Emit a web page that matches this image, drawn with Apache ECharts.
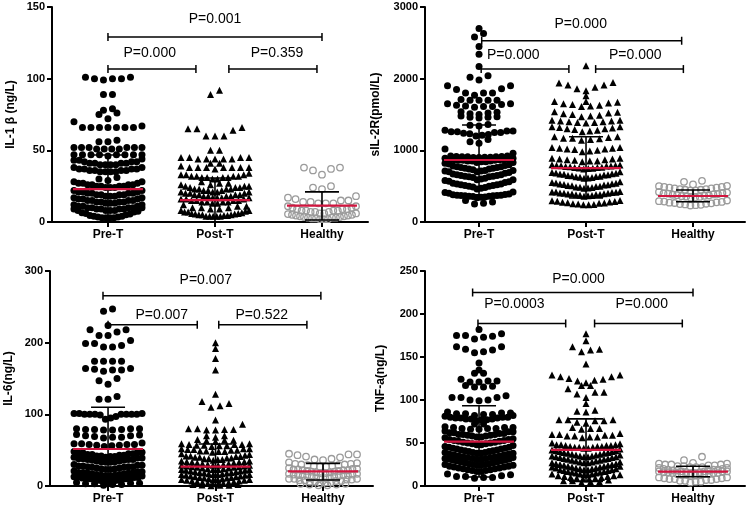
<!DOCTYPE html>
<html><head><meta charset="utf-8">
<script src="https://cdn.jsdelivr.net/npm/echarts@6/dist/echarts.min.js"></script>
<style>html,body{margin:0;padding:0;background:#fff}#c{width:750px;height:508px}</style>
</head><body><div id="c"></div>
<script>
const categories = ['Pre-T', 'Post-T', 'Healthy'];
const yNames = ['IL-1 β (ng/L)', 'sIL-2R(pmol/L)', 'IL-6(ng/L)', 'TNF-a(ng/L)'];
const yMax = [150, 3000, 300, 250];
const yInterval = [50, 1000, 100, 50];

// ---- IL-1 beta (rows of points) ----
const il1_pre = [
  [101,100,100,99,100,101],[89,89],[79,78],[76,75,72],
  [67,66,66,66,66,66,66,66,70],[56,57,56],[52,51,52,52,52,52,51,52,51,51],
  [47,47,47,47,47,47,47,47,46],
  [40,40,40,40,41,41,41,41,42,42,42,43,43,44],
  [35,35,35,35,36,36,36,36,37,37,37,37,38,38],[29,30,31],
  [24,24,24,25,25,25,25,26,26,26,26,27,27,27,28,28],
  [18,18,18,19,19,19,19,20,20,20,20,21,21,21,22,22],
  [13,13,13,14,14,14,14,15,15,15,15,16,16,16,17,17],
  [8,8,8,9,9,9,9,10,10,10,10,11,11,11,12,12],
  [3,3,3,3,3.5,3.5,4,4,4.5,5,5.5,6,6.5,7,7.5,8,9,10]
];
const il1_post = [
  [89,92],[60,60,60,64,65,65,66],[50,50],[44,44,44,44,44,45,45,45,45],[41,41],
  [37,38,38,38,38,38,38,38,39],[30,30,31,31,31,31,32,32,32,32,33,33,33,34],[26,27,27,28],
  [21,21,22,22,22,23,23,23,23,24,24,24,25,25,25,26],
  [17,17,17,18,18,18,18,19,19,19,19,20,20,20,21,21],
  [13,13,14,14,14,14,15,15,15,15,16,16,16,17],[9,9,10,10,10,11,11,12],
  [4,4,4,4,4,4.5,4.5,5,5,5,5.5,5.5,6,6,6.5,7,7,7.5,8,8]
];
const il1_hea = [
  [33,36,37,38,38],[23,24,25],[13,13,13,14,14,15,15,16,17,18],
  [6,6,7,7,7,8,8,8,8,9,9,9,10,10,11,11],
  [2,2,2,2.5,2.5,3,3,3,3.5,3.5,4,4,4.5,4.5,5,5,5.5,6]
];
// ---- sIL-2R ----
const il2_pre = [
  [2700],[2580,2630],[2450],[2340],[2170],[1980,2020,2040],
  [1770,1800,1800,1800,1850,1860,1900,1900],[1700,1700,1700,1700,1710],
  [1600,1610,1610,1620,1630,1640,1650,1650],[1500,1510,1520,1530,1540],
  [1450,1460,1460,1470,1480],[1340,1350,1360],
  [1200,1210,1220,1230,1240,1250,1250,1260,1260,1270,1270,1280],[1100,1120,1150],
  [900,900,905,905,910,910,910,915,915,920,920,960,1020],
  [830,840,840,850,850,850,860,860,860,870,870,870,880,880,890,890],
  [700,710,720,730,740,740,750,750,760,760,770,770,780,790,800,810,820,830],
  [590,600,610,620,630,630,640,640,650,650,660,660,670,680,690,700,710,720],
  [460,470,480,490,500,500,510,510,520,520,530,530,540,550,560,570,580,590],
  [340,345,350,355,360,360,365,365,370,370,375,375,380,385,390,400,410,420],
  [250,260,280,300]
];
const il2_post = [
  [2180],[1760],[1830,1860,1880,1910,1910,1940,1945],[1680],
  [1610,1620,1630,1640,1650,1660,1670,1680],[1470,1480,1490,1500,1510,1520,1530,1540],
  [1380,1390,1390,1400,1400,1410,1410,1420,1420],
  [1260,1270,1280,1290,1300,1300,1310,1320,1330,1330],
  [1140,1150,1160,1170,1170,1180,1190,1190],
  [980,990,1000,1010,1020,1020,1030,1030,1040,1040],
  [840,850,850,860,870,870,880,880,890,890],
  [740,745,750,755,760,760,765,770,775,780,780,785,790,790,795,800],
  [610,615,620,625,630,635,640,645,650,655,660,665,670,675,680,685,690,700],
  [470,475,480,485,490,495,500,505,510,515,520,525,530,535,540,545,550,560],
  [360,365,370,375,380,385,385,390,390,395,400,400,405,410,415,420,420,425],
  [240,240,245,250,255,260,265,270,275,280,285,290,295,300]
];
const il2_hea = [
  [525,560,575],
  [440,440,450,450,460,460,470,470,480,480,490,490,500,505],
  [340,345,350,355,360,365,370,375,380,385,390,395,400,405,410,420],
  [230,235,240,245,250,255,260,265,270,275,280,285,290,300]
];
// ---- IL-6 ----
const il6_pre = [
  [244,247],[224],[210,210,215,218,218],[194,194,196,199,199,203],[174,174,174,174],
  [160,162,162,163,164,164],[142,147,150],[121,121,125],
  [93,95,97,99,100,100,100,100,100,100,100,101,101,101],
  [78,78,79,79,79,80,80,80],[67,68,68,69,70,70,71,72],[55,56,57,57,58,58,58,59,59,60],
  [40,41,41,42,42,43,43,44,44,45,45,46,46,47,47,48],
  [33,33,34,34,35,35,36,36,37,37,37,38,38,39,39,40],
  [23,23,24,24,25,25,26,26,27,27,27,28,28,29,29,30],
  [14,14,15,15,16,16,17,17,18,18,18,19,19,20,20,21],
  [6,6,7,7,8,8,9,9,10,10,10,11,11,12,12,13,13,14],
  [1,2,2,3,3,4,4,5]
];
const il6_post = [
  [200],[192],[178],[162],[128],[110,112,115,118],[92],
  [78,78,79,79,80,80,86],[68,70,70],[62,63,64,64,65],
  [55,56,56,57,57,58,58,58,59,59],[47,48,48,49,49,50,50,51,51,52,52,52],
  [36,37,37,38,38,39,39,40,40,41,41,42,42,43,44,45],
  [29,29,30,30,31,31,32,32,33,33,34,34,35,35],
  [23,23,24,24,25,25,26,26,27,27,28,28,29,29],
  [16,16,17,17,18,18,19,19,20,20,21,21,22,22,23,23],
  [9,9,10,10,11,11,12,12,13,13,14,14,15,15,16,16],
  [3,3,4,4,5,5,6,6,7,7,8,8,9,9],[0.5,1,1,1.5,2,2]
];
const il6_hea = [
  [36,37,38,40,41,43,44,44,45],
  [27,27,28,28,29,29,30,30,31,31,32,33],
  [18,18,19,19,20,20,21,21,22,22,22,23,23,24,24,25],
  [11,11,12,12,13,13,14,14,14,15,15,15,16,16,17,17],
  [4,5,5,6,6,7,7,8,8,9,9,10,10,10],[1,1,2,2,3,3]
];
// ---- TNF-a ----
const tnf_pre = [
  [182],[171,173,174,175,175,177],[155,156,158,159,162,162],[143],[135],[131,131],
  [121,121,122,122,124],[115,115,116,117],[99,100,100,103,103,103,105],
  [82,83,83,84,84,85,85,86],[76,77,77,78,78,78,79,79,79,80,80,80,81,82],[72,72],
  [66,66,67,67,67,68,68,68,69],
  [57,57,58,58,59,59,60,60,60,61,61,62,62,63,63,64],
  [48,48,49,49,50,50,51,51,52,52,53,53,54,54,55,56],
  [38,38,39,39,40,40,41,41,42,42,43,43,44,44,45,45,46,47],
  [31,31,32,32,33,33,34,34,35,35,36,36,37,37,38,39],
  [24,24,25,25,26,26,27,27,28,28,29,29,30,30,31,31,32,33],
  [17,17,18,18,19,19,20,20,21,21,22,22,23,23,24,25],
  [9,10,10,11,11,12,13,14]
];
const tnf_post = [
  [177],[169],[156,158,159,162],[142],[120,122,123,124,125,127,127,129,129],[117,117],
  [103,107,109,109,113],[96],[86,87,88],[73,74,76,76,77,77,77],[66,67,67,68],
  [56,57,57,58,58,59,59,60,60,61],
  [44,44,45,45,45,46,46,46,47,47,47,48,48,48,49,50],
  [34,34,35,35,36,36,37,37,38,38,39,39,40,40,41,41,42,43],
  [27,27,28,28,29,29,30,30,31,31,32,32,33,33,34,34,35,36],
  [19,19,20,20,21,21,22,22,23,23,24,24,25,25,26,26,27,28],
  [13,13,14,14,15,15,16,16,17,17,18,18,19,19,20,21,22,23],
  [8,8,9,9,10,10,11,11,12,12,13,14],[4,5,5,6,6,7]
];
const tnf_hea = [
  [27,30,34],[22,22,22,23,23,24,24,25,25,25,26,26],
  [15,15,16,16,17,17,18,18,18,19,19,19,20,20,21,21],
  [12,12,13,13,13,14,14,14,15,15,15,16,16,17,17,17],
  [4,5,5,6,6,7,7,8,8,8,9,9,10,10]
];

// median, lower bar, upper bar per group
const il1_stats = [[23, 0, 46.7], [15.3, 0, 30.7], [11.4, 1.4, 21]];
const il2_stats = [[865, 380, 1353], [753, 335, 1190], [363, 283, 446]];
const il6_stats = [[51.6, 0, 109.8], [27, 0, 58.6], [20.5, 8.4, 31.6]];
const tnf_stats = [[51.5, 10.5, 93.4], [41.9, 5.4, 78], [16.7, 10.8, 22.9]];

// comparison brackets: [from, to, level, labelX, labelY]
const il1_cmp = [[0, 2, 129, 1.0, 141.6], [0, 0.822, 106.7, 0.39, 118], [1.13, 1.953, 106.7, 1.58, 118]];
const il1_pv = ['P=0.001', 'P=0.000', 'P=0.359'];
const il2_cmp = [[0.025, 1.894, 2529, 0.95, 2762], [0.02, 0.84, 2134, 0.32, 2330], [1.09, 1.91, 2134, 1.46, 2330]];
const il2_pv = ['P=0.000', 'P=0.000', 'P=0.000'];
const il6_cmp = [[-0.047, 1.98, 265.5, 0.91, 287], [0, 0.83, 225, 0.5, 238.5], [1.03, 1.85, 225, 1.43, 238.5]];
const il6_pv = ['P=0.007', 'P=0.007', 'P=0.522'];
const tnf_cmp = [[-0.06, 2.0, 225, 0.93, 240.6], [-0.01, 0.81, 189, 0.33, 211.6], [1.08, 1.90, 189, 1.52, 211.6]];
const tnf_pv = ['P=0.000', 'P=0.0003', 'P=0.000'];

const groups = [
  [il1_pre, il1_post, il1_hea], [il2_pre, il2_post, il2_hea],
  [il6_pre, il6_post, il6_hea], [tnf_pre, tnf_post, tnf_hea]
];
const stats = [il1_stats, il2_stats, il6_stats, tnf_stats];
const cmps = [il1_cmp, il2_cmp, il6_cmp, tnf_cmp];
const pvs = [il1_pv, il2_pv, il6_pv, tnf_pv];

const panels = [
  {left: 52, top: 7, width: 316, height: 215, xmin: -0.523, xmax: 2.430, gap: 35},
  {left: 425, top: 7, width: 320, height: 215, xmin: -0.505, xmax: 2.486, gap: 43},
  {left: 50, top: 271, width: 323, height: 215, xmin: -0.54, xmax: 2.465, gap: 35},
  {left: 425, top: 271, width: 320, height: 215, xmin: -0.505, xmax: 2.486, gap: 38}
];

const FONT = '"Liberation Sans", Arial, Helvetica, sans-serif';
const RED = '#d2153f';

// beeswarm-style layout: each row is spread horizontally, smallest values in the centre
function swarm(rows, cat, pxPerUnit) {
  const pts = [];
  rows.forEach(r => {
    const v = r.slice().sort((a, b) => a - b);
    const n = v.length;
    const sp = n > 1 ? Math.min(9, 68 / (n - 1)) : 0;
    const s = [];
    if (n % 2 === 1) {
      s.push(0);
      for (let k = 1; s.length < n; k++) {
        if (k % 2) { s.push(-k); if (s.length < n) s.push(k); }
        else { s.push(k); if (s.length < n) s.push(-k); }
      }
    } else {
      for (let k = 0; s.length < n; k++) {
        const a = k + 0.5;
        if (k % 2) { s.push(a); s.push(-a); } else { s.push(-a); s.push(a); }
      }
    }
    v.forEach((val, i) => pts.push([cat + s[i] * sp / pxPerUnit, val]));
  });
  return pts;
}

const grid = [], xAxis = [], yAxis = [], series = [];
panels.forEach((p, i) => {
  const ppu = p.width / (p.xmax - p.xmin);
  grid.push({left: p.left, top: p.top, width: p.width, height: p.height});
  xAxis.push({
    type: 'value', gridIndex: i, min: p.xmin, max: p.xmax,
    axisLine: {show: true, onZero: false, lineStyle: {color: '#000', width: 2}},
    axisTick: {show: true, length: 5, customValues: [0, 1, 2], lineStyle: {color: '#000', width: 2}},
    axisLabel: {customValues: [0, 1, 2], formatter: v => categories[Math.round(v)],
      color: '#000', fontWeight: 'bold', fontSize: 12, fontFamily: FONT, margin: 7},
    splitLine: {show: false}
  });
  yAxis.push({
    type: 'value', gridIndex: i, min: 0, max: yMax[i], interval: yInterval[i],
    name: yNames[i], nameLocation: 'middle', nameGap: p.gap,
    nameTextStyle: {color: '#000', fontWeight: 'bold', fontSize: 12, fontFamily: FONT},
    axisLine: {show: true, onZero: false, lineStyle: {color: '#000', width: 2}},
    axisTick: {show: true, length: 5, lineStyle: {color: '#000', width: 2}},
    axisLabel: {color: '#000', fontWeight: 'bold', fontSize: 11, fontFamily: FONT, margin: 7,
      formatter: v => String(v)},
    splitLine: {show: false}
  });
  const g = groups[i];
  series.push({
    type: 'scatter', xAxisIndex: i, yAxisIndex: i, symbol: 'circle', symbolSize: 7,
    itemStyle: {color: '#000', opacity: 1}, data: swarm(g[0], 0, ppu), silent: true, z: 2
  });
  series.push({
    type: 'scatter', xAxisIndex: i, yAxisIndex: i, symbol: 'triangle', symbolSize: 7,
    itemStyle: {color: '#000', opacity: 1}, data: swarm(g[1], 1, ppu), silent: true, z: 2
  });
  series.push({
    type: 'scatter', xAxisIndex: i, yAxisIndex: i, symbol: 'circle', symbolSize: 6.5,
    itemStyle: {color: 'rgba(0,0,0,0)', borderColor: '#9b9b9b', borderWidth: 1.3, opacity: 1},
    data: swarm(g[2], 2, ppu), silent: true, z: 2
  });
  // error bars + medians
  series.push({
    type: 'custom', xAxisIndex: i, yAxisIndex: i, silent: true, z: 5, clip: false,
    data: stats[i].map((s, k) => [k, s[0], s[1], s[2]]),
    encode: {x: 0, y: 1},
    renderItem: (params, api) => {
      const x = api.value(0), med = api.value(1), lo = api.value(2), hi = api.value(3);
      const pm = api.coord([x, med]), pl = api.coord([x, lo]), ph = api.coord([x, hi]);
      const ls = {stroke: '#000', lineWidth: 1.6};
      const ch = [
        {type: 'line', shape: {x1: pl[0], y1: pl[1], x2: ph[0], y2: ph[1]}, style: ls},
        {type: 'line', shape: {x1: ph[0] - 17, y1: ph[1], x2: ph[0] + 17, y2: ph[1]}, style: ls}
      ];
      if (lo > 0) ch.push({type: 'line', shape: {x1: pl[0] - 17, y1: pl[1], x2: pl[0] + 17, y2: pl[1]}, style: ls});
      ch.push({type: 'line', shape: {x1: pm[0] - 35, y1: pm[1], x2: pm[0] + 35, y2: pm[1]}, style: {stroke: RED, lineWidth: 2.2}});
      return {type: 'group', children: ch};
    }
  });
  // comparison brackets
  const labels = pvs[i];
  series.push({
    type: 'custom', xAxisIndex: i, yAxisIndex: i, silent: true, z: 6, clip: false,
    data: cmps[i], encode: {x: 0, y: 2},
    renderItem: (params, api) => {
      const a = api.coord([api.value(0), api.value(2)]);
      const b = api.coord([api.value(1), api.value(2)]);
      const t = api.coord([api.value(3), api.value(4)]);
      const ls = {stroke: '#000', lineWidth: 1.5};
      return {type: 'group', children: [
        {type: 'line', shape: {x1: a[0], y1: a[1], x2: b[0], y2: b[1]}, style: ls},
        {type: 'line', shape: {x1: a[0], y1: a[1] - 4, x2: a[0], y2: a[1] + 4}, style: ls},
        {type: 'line', shape: {x1: b[0], y1: b[1] - 4, x2: b[0], y2: b[1] + 4}, style: ls},
        {type: 'text', x: t[0], y: t[1], style: {text: labels[params.dataIndex], fill: '#000',
          font: '14px ' + FONT, align: 'center', verticalAlign: 'middle'}}
      ]};
    }
  });
});

const chart = echarts.init(document.getElementById('c'), null, {renderer: 'canvas'});
chart.setOption({animation: false, backgroundColor: '#fff', grid, xAxis, yAxis, series});
</script></body></html>
